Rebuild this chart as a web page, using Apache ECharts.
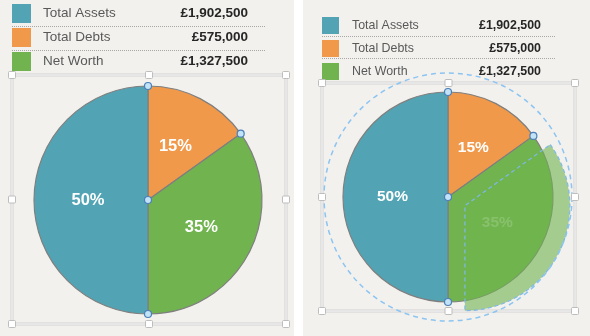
<!DOCTYPE html>
<html><head><meta charset="utf-8">
<script src="https://cdn.jsdelivr.net/npm/echarts@6/dist/echarts.min.js"></script>
<style>html,body{margin:0;padding:0;background:#f2f1ed}#c{width:590px;height:336px}</style>
</head><body><div id="c"></div><script>
// ---- data ----
const categories = ['Total Assets', 'Total Debts', 'Net Worth'];
const values = [1902500, 575000, 1327500];
const sliceOrder = ['Total Debts', 'Net Worth', 'Total Assets']; // clockwise from 12 o'clock
const selectedCategory = 'Net Worth';

// ---- styles ----
const FONT = '"Liberation Sans", Arial, sans-serif';
const palette = { 'Total Assets': '#52a4b4', 'Total Debts': '#f0994b', 'Net Worth': '#71b44f' };
const valueOf = n => values[categories.indexOf(n)];
const fmt = v => '£' + String(v).replace(/\B(?=(\d{3})+(?!\d))/g, ',');
const sum = values.reduce((a, b) => a + b, 0) - 0;
const pieTotal = sliceOrder.reduce((a, n) => a + valueOf(n), 0);
const cum = [];
sliceOrder.reduce((a, n) => { cum.push(a); return a + valueOf(n); }, 0);

const panels = [
  { center: [148, 200], radius: 114, label: 16.5, legend: { left: 12, top: 4, size: 19, gap: 5, pad: 7, nw: 135, vw: 70, fs: 13.5 },
    frame: { x: 12, y: 75, w: 274, h: 249 }, faded: null },
  { center: [448, 197], radius: 105, label: 15.5, legend: { left: 322, top: 17, size: 17, gap: 6, pad: 8, nw: 125, vw: 64, fs: 12.4 },
    frame: { x: 322, y: 83, w: 253, h: 228 }, faded: selectedCategory }
];

function pieSeries(p) {
  return {
    type: 'pie', center: p.center, radius: p.radius, startAngle: 90, clockwise: true,
    percentPrecision: 0, silent: true, animation: false, z: 2,
    itemStyle: { borderColor: '#7f7f7f', borderWidth: 1.2 },
    label: { show: true, position: 'inside', formatter: '{d}%', color: '#fff', fontWeight: 'bold',
             fontSize: p.label, fontFamily: FONT },
    labelLine: { show: false }, emphasis: { disabled: true },
    data: sliceOrder.map(n => {
      const d = { name: n, value: valueOf(n), itemStyle: { color: palette[n] } };
      if (n === p.faded) d.label = { color: 'rgba(255,255,255,0.42)' };
      return d;
    })
  };
}

const ghostStyle = { color: 'rgba(112,180,79,0.6)', borderColor: '#7db8ec', borderWidth: 1.2, borderType: [4, 3] };
const ghost = {
  type: 'pie', center: panels[1].center, radius: panels[1].radius, startAngle: 90, clockwise: true,
  selectedMode: 'single', selectedOffset: 19, silent: true, animation: false, z: 3,
  label: { show: false }, labelLine: { show: false }, emphasis: { disabled: true },
  data: sliceOrder.map(n => n === selectedCategory
    ? { name: n, value: valueOf(n), selected: true, itemStyle: ghostStyle, select: { itemStyle: ghostStyle } }
    : { name: n, value: valueOf(n), itemStyle: { color: 'rgba(0,0,0,0)', borderWidth: 0 } })
};

const handlePoints = cum.slice(0, 3).map(a => [1, a]).concat([[0, 0]]);

const polar = panels.map(p => ({ center: p.center, radius: p.radius }));
const angleAxis = panels.map((p, i) => ({ polarIndex: i, type: 'value', min: 0, max: pieTotal, startAngle: 90, clockwise: true,
  show: false, axisLine: { show: false }, axisTick: { show: false }, axisLabel: { show: false }, splitLine: { show: false } }));
const radiusAxis = panels.map((p, i) => ({ polarIndex: i, type: 'value', min: 0, max: 1,
  show: false, axisLine: { show: false }, axisTick: { show: false }, axisLabel: { show: false }, splitLine: { show: false } }));
const handleSeries = panels.map((p, i) => ({
  type: 'scatter', coordinateSystem: 'polar', polarIndex: i, data: handlePoints, symbol: 'circle', symbolSize: 7,
  silent: true, animation: false, z: 12,
  itemStyle: { color: '#c2e2f6', borderColor: '#4a7fb8', borderWidth: 1.2, opacity: 1 }
}));

const legends = panels.map(p => {
  const L = p.legend;
  return {
    left: L.left, top: L.top, orient: 'vertical', itemWidth: L.size, itemHeight: L.size, itemGap: L.gap,
    icon: 'rect', selectedMode: false, padding: 0, data: categories,
    itemStyle: { borderWidth: 0 },
    formatter: n => `{n|${n}}{v|${fmt(valueOf(n))}}`,
    textStyle: { rich: {
      n: { width: L.nw, padding: [0, 0, 0, L.pad], fontSize: L.fs, color: '#595959', fontFamily: FONT, lineHeight: L.size },
      v: { width: L.vw, align: 'right', fontSize: L.fs, fontWeight: 'bold', color: '#262626', fontFamily: FONT, lineHeight: L.size }
    } }
  };
});

// decorations
const graphic = [];
graphic.push({ type: 'rect', shape: { x: 294, y: 0, width: 9, height: 336 }, style: { fill: '#ffffff' }, z: 0, silent: true });
// separators
[[12, 266, [26, 50]], [322, 556, [36, 58]]].forEach(([x1, x2, ys]) => ys.forEach(y =>
  graphic.push({ type: 'line', shape: { x1, y1: y + 0.5, x2, y2: y + 0.5 }, style: { stroke: '#a8a8a8', lineWidth: 1, lineDash: [1, 1] }, z: 1, silent: true })));
// frames + handles
panels.forEach(p => {
  const f = p.frame;
  graphic.push({ type: 'rect', shape: { x: f.x, y: f.y, width: f.w, height: f.h }, style: { fill: null, stroke: '#d2d2d2', lineWidth: 3 }, z: 1, silent: true });
  graphic.push({ type: 'rect', shape: { x: f.x, y: f.y, width: f.w, height: f.h }, style: { fill: null, stroke: '#fbfbfb', lineWidth: 1 }, z: 1, silent: true });
  const xs = [f.x, f.x + f.w / 2, f.x + f.w], ys = [f.y, f.y + f.h / 2, f.y + f.h];
  xs.forEach((x, i) => ys.forEach((y, j) => {
    if (i === 1 && j === 1) return;
    graphic.push({ type: 'rect', shape: { x: x - 3.5, y: y - 3.5, width: 7, height: 7, r: 1 }, style: { fill: '#ffffff', stroke: '#bdbdbd', lineWidth: 1 }, z: 11, silent: true });
  }));
});
graphic.push({ type: 'circle', shape: { cx: 448, cy: 197, r: 124 }, style: { fill: null, stroke: '#8cc4f2', lineWidth: 1.5, lineDash: [5, 4] }, z: 10, silent: true });

const chart = echarts.init(document.getElementById('c'), null, { renderer: 'canvas' });
chart.setOption({
  backgroundColor: '#f2f1ed',
  animation: false,
  legend: legends,
  polar, angleAxis, radiusAxis,
  series: [pieSeries(panels[0]), pieSeries(panels[1]), ghost].concat(handleSeries),
  graphic
});
</script></body></html>
